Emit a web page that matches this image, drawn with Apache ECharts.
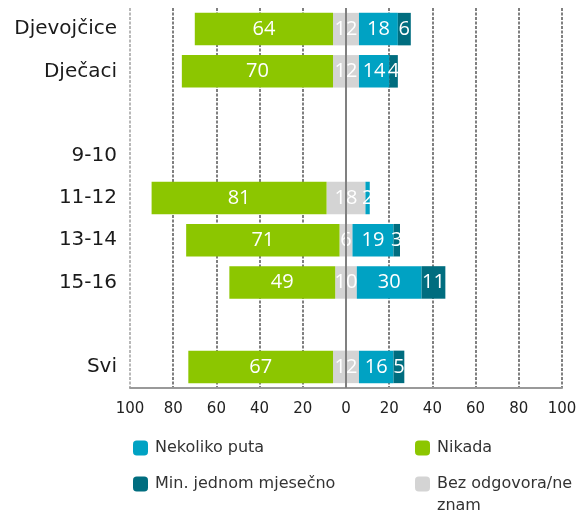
<!DOCTYPE html>
<html>
<head>
<meta charset="utf-8">
<script src="https://cdn.jsdelivr.net/npm/echarts@6/dist/echarts.min.js"></script>
<style>html,body{margin:0;padding:0;background:#fff;}</style>
</head>
<body>
<div id="main" style="width:581px;height:515px;"></div>
<script>
    // kategorije (odozgo prema dolje)
    var categories = ['Djevojčice', 'Dječaci', '', '9-10', '11-12', '13-14', '15-16', '', 'Svi'];
    var nikada = [64, 70, null, null, 81, 71, 49, null, 67];
    var bezOdgovora = [12, 12, null, null, 18, 6, 10, null, 12];
    var nekoliko = [18, 14, null, null, 2, 19, 30, null, 16];
    var minJednom = [6, 4, null, null, 0, 3, 11, null, 5];
    var xTicks = [-100, 100, 20];

    var GREEN = '#8cc600', GREY = '#d4d4d4', TEAL = '#00a2c3', DARK = '#006d7f';
    var labelFont = {fontFamily: 'Open Sans', fontSize: 20, color: '#fff'};

    function neg(arr) { return arr.map(function (v) { return v == null ? null : -v; }); }
    function half(arr, s) { return arr.map(function (v) { return v == null ? null : s * v / 2; }); }
    function lbl(p) { return p.value ? Math.abs(p.value) : ''; }

    function legendAt(name, left, top) {
        return {
            left: left, top: top, itemWidth: 15, itemHeight: 15, itemGap: 0,
            textStyle: {
                fontFamily: 'DejaVu Sans', fontSize: 16, color: '#333', lineHeight: 22,
                padding: [0, 0, 0, 2]
            },
            // prazan prvi red da prvi redak teksta stoji uz ikonu
            formatter: function (n) { return n === 'Bez odgovora/ne znam' ? ' \nBez odgovora/ne\nznam' : n; },
            data: [name]
        };
    }

    var myChart = echarts.init(document.getElementById('main'));
    var option = {
        animation: false,
        grid: {left: 130, right: 19, top: 8, bottom: 127},
        xAxis: {
            type: 'value',
            min: xTicks[0], max: xTicks[1], interval: xTicks[2],
            axisLine: {show: true, lineStyle: {color: '#999', width: 2}},
            axisTick: {show: false},
            axisLabel: {
                formatter: function (v) { return Math.abs(v); },
                fontFamily: 'DejaVu Sans', fontSize: 15, color: '#222', margin: 14
            },
            splitLine: {
                lineStyle: {
                    type: [3, 1.5], width: 2,
                    color: ['#b8b8b8', '#808080', '#808080', '#808080', '#808080', '#808080',
                        '#808080', '#808080', '#808080', '#808080', '#808080']
                }
            }
        },
        yAxis: {
            type: 'category',
            inverse: true,
            data: categories,
            axisLine: {show: false},
            axisTick: {show: false},
            axisLabel: {fontFamily: 'DejaVu Sans', fontSize: 20, color: '#1a1a1a', margin: 13}
        },
        legend: [
            legendAt('Nekoliko puta', 128, 432),
            legendAt('Min. jednom mjesečno', 128, 468),
            legendAt('Nikada', 410, 432),
            legendAt('Bez odgovora/ne znam', 410, 446)
        ],
        series: [
            {
                name: 'Bez odgovora/ne znam', type: 'bar', stack: 'a', barWidth: '77%',
                itemStyle: {color: GREY}, data: half(bezOdgovora, -1),
                markLine: {
                    silent: true, symbol: 'none', label: {show: false},
                    lineStyle: {color: '#808080', type: 'solid', width: 2},
                    data: [{xAxis: 0}]
                }
            },
            {
                name: 'Nikada', type: 'bar', stack: 'a',
                itemStyle: {color: GREEN}, data: neg(nikada),
                label: Object.assign({show: true, position: 'inside', formatter: lbl}, labelFont)
            },
            {
                name: 'Bez odgovora/ne znam', type: 'bar', stack: 'a',
                itemStyle: {color: GREY}, data: half(bezOdgovora, 1),
                label: Object.assign({
                    show: true, position: 'left', distance: 0, align: 'center',
                    formatter: function (p) { return p.value ? p.value * 2 : ''; }
                }, labelFont)
            },
            {
                name: 'Nekoliko puta', type: 'bar', stack: 'a',
                itemStyle: {color: TEAL}, data: nekoliko,
                label: Object.assign({show: true, position: 'inside', formatter: lbl}, labelFont)
            },
            {
                name: 'Min. jednom mjesečno', type: 'bar', stack: 'a',
                itemStyle: {color: DARK}, data: minJednom,
                label: Object.assign({show: true, position: 'inside', formatter: lbl}, labelFont)
            }
        ]
    };
    myChart.setOption(option);
</script>
</body>
</html>
